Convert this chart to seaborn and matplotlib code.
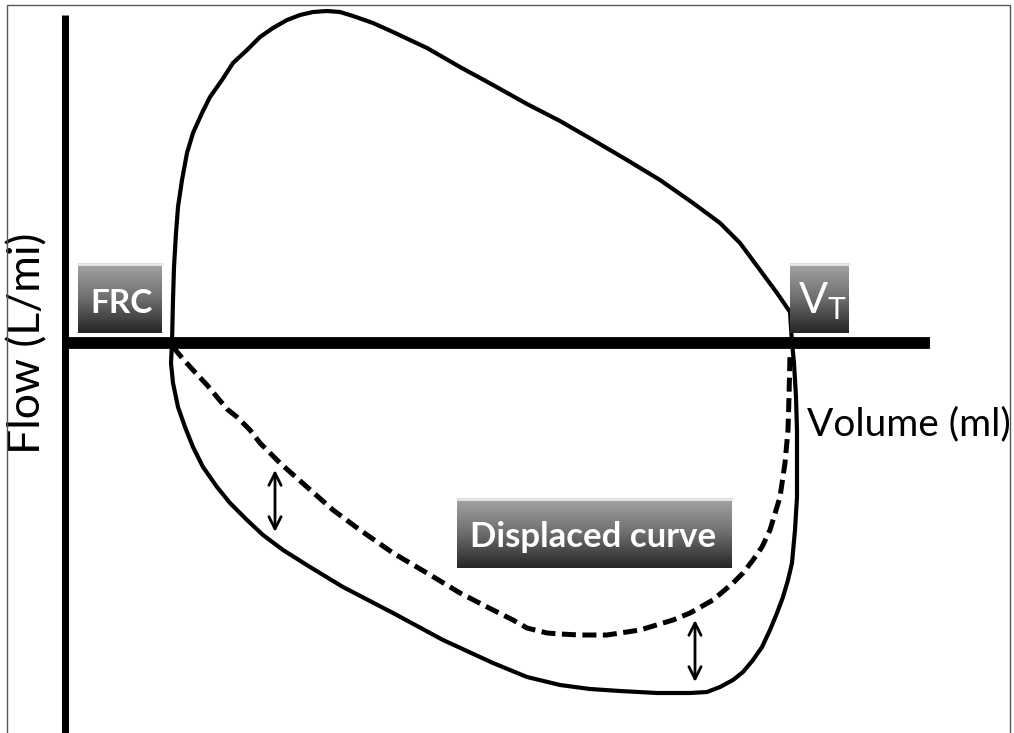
import matplotlib
matplotlib.use("Agg")
import matplotlib.pyplot as plt
import numpy as np
import pandas as pd
import seaborn as sns
from matplotlib.colors import LinearSegmentedColormap
from matplotlib.patches import Rectangle

# flow-volume loop (volume from the flow axis, flow from FRC line)
INSP_VOL = [107, 108, 109, 111, 113, 117, 122, 128, 137, 145, 157, 168, 182, 195, 208,
            222, 235, 248, 262, 275, 288, 308, 328, 362, 395, 428, 462, 495, 528, 562,
            595, 628, 655, 675, 695, 712, 725, 727]
INSP_FLOW = [0, 43, 76, 110, 136, 163, 190, 210, 230, 246, 263, 280, 293, 306, 315,
             323, 328, 331, 332, 331, 327, 320, 311, 295, 276, 258, 239, 222, 203, 183,
             163, 140, 120, 100, 73, 50, 31, 0]

EXP_VOL = [107, 106, 108, 113, 120, 128, 138, 152, 165, 182, 198, 218, 245, 278, 328,
           378, 428, 462, 495, 525, 555, 592, 625, 642, 655, 668, 678, 688, 697, 705,
           712, 718, 723, 727, 730, 732, 732, 732, 731, 729, 727]
EXP_FLOW = [0, -20, -40, -64, -84, -104, -124, -144, -160, -177, -192, -207, -224, -244, -270,
            -297, -320, -334, -342, -346, -348, -350, -350, -349, -344, -337, -329, -317, -304, -287,
            -270, -254, -237, -220, -187, -154, -120, -87, -54, -20, 0]

DISP_VOL = [108, 118, 128, 142, 152, 162, 172, 185, 195, 215, 242, 268, 295, 328, 362,
            395, 428, 448, 462, 482, 495, 515, 542, 575, 608, 625, 648, 668, 678, 688,
            697, 705, 715, 720, 723, 724, 725]
DISP_FLOW = [-4, -16, -27, -42, -54, -66, -74, -87, -100, -120, -144, -167, -187, -210, -230,
             -250, -267, -277, -285, -290, -291, -292, -292, -287, -277, -270, -257, -240, -230, -217,
             -204, -187, -154, -120, -87, -54, -12]

# the two gaps marked with double arrows: (volume, flow on dashed, flow on solid)
GAP_VOL = [210, 630]
GAP_TOP = [-127, -277]
GAP_BOT = [-189, -339]

insp = pd.DataFrame({"volume": INSP_VOL, "flow": INSP_FLOW})
exp = pd.DataFrame({"volume": EXP_VOL, "flow": EXP_FLOW})
disp = pd.DataFrame({"volume": DISP_VOL, "flow": DISP_FLOW})

sns.set_style("white")
plt.rcParams["font.family"] = ["Lato", "DejaVu Sans"]

fig = plt.figure(figsize=(10.14, 7.33), dpi=100)
ax = fig.add_axes([0, 0, 1, 1])

sns.lineplot(data=insp, x="volume", y="flow", sort=False, estimator=None,
             color="black", lw=3, ax=ax)
sns.lineplot(data=exp, x="volume", y="flow", sort=False, estimator=None,
             color="black", lw=3, ax=ax)
sns.lineplot(data=disp, x="volume", y="flow", sort=False, estimator=None,
             color="black", lw=3.6, linestyle=(0, (2.8, 1.3)), ax=ax)

for v, top, bot in zip(GAP_VOL, GAP_TOP, GAP_BOT):
    ax.annotate("", xy=(v, top), xytext=(v, bot),
                arrowprops=dict(arrowstyle="<->", lw=2, color="black",
                                mutation_scale=22, shrinkA=0, shrinkB=0))

# grey glossy buttons
btn_cmap = LinearSegmentedColormap.from_list("btn", ["#262626", "#6e6e6e", "#a5a5a5"])


def button(x0, x1, y0, y1):
    grad = np.linspace(0, 1, 100).reshape(-1, 1)
    ax.imshow(grad, extent=(x0, x1, y0, y1), cmap=btn_cmap, origin="lower",
              aspect="auto", zorder=4)
    ax.plot([x0, x1], [y1 - 1, y1 - 1], color="#e6e6e6", lw=2, zorder=5)


button(13, 97, 10, 80)
button(725, 784, 10, 80)
button(392, 667, -225, -155)

ax.text(56.5, 30, "FRC", color="white", fontsize=24, fontweight="bold",
        ha="center", va="baseline", zorder=6)
ax.text(757, 30, r"V$_\mathregular{T}$", color="white", fontsize=31,
        ha="center", va="baseline", zorder=6)
ax.text(528.5, -204, "Displaced curve", color="white", fontsize=25, fontweight="bold",
        ha="center", va="baseline", zorder=6)

ax.text(742, -92, "Volume (ml)", color="black", fontsize=28,
        ha="left", va="baseline")
ax.text(-37, 0, "Flow (L/mi)", color="black", fontsize=32,
        rotation=90, ha="center", va="center")

# axes drawn as crossing spines
ax.set_xlim(-65, 949)
ax.set_ylim(-390, 343)
for side in ["top", "right"]:
    ax.spines[side].set_visible(False)
ax.spines["left"].set_position(("data", 0))
ax.spines["bottom"].set_position(("data", 0))
ax.spines["left"].set_bounds(-400, 328)
ax.spines["bottom"].set_bounds(0, 865)
ax.spines["left"].set_linewidth(5)
ax.spines["bottom"].set_linewidth(8.5)
for side in ["left", "bottom"]:
    ax.spines[side].set_color("black")
    ax.spines[side].set_capstyle("butt")
ax.set_xticks([])
ax.set_yticks([])
ax.set_xlabel("")
ax.set_ylabel("")
ax.patch.set_alpha(0)

fig.patches.append(Rectangle((7 / 1014, -0.01), 1003 / 1014, 1.0032, transform=fig.transFigure,
                             fill=False, edgecolor="#555555", lw=1))

fig.savefig("out.png", dpi=100, facecolor="white")
